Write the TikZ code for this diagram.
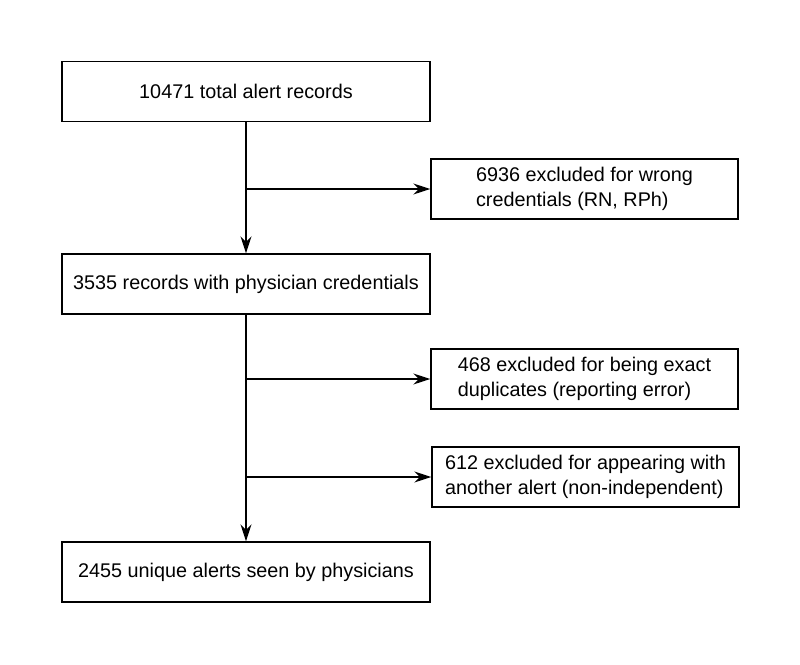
\documentclass[tikz,border=0pt]{standalone}
\usepackage{fontspec}
\setmainfont{Liberation Sans}
\usetikzlibrary{positioning,arrows.meta}
\begin{document}
\begin{tikzpicture}[
            x=0.5pt, y=-0.5pt,
            every node/.style={font=\fontsize{9.9}{12.3}\selectfont},
            mainbox/.style={rectangle, draw, line width=0.7pt, minimum width=184pt, minimum height=30pt, inner sep=0pt},
            sidebox/.style={rectangle, draw, line width=0.7pt, minimum width=153.5pt, minimum height=30pt, inner sep=0pt, align=left},
            flow/.style={-{Stealth[length=8.5pt,width=5.5pt]}, line width=0.7pt}
        ]
        \useasboundingbox (0,0) rectangle (800,665);
        % main column
        \node[mainbox] (total) at (246,91.5) {10471 total alert records};
        \node[mainbox] (phys) at (246,284) {3535 records with physician credentials};
        \node[mainbox] (unique) at (246,572) {2455 unique alerts seen by physicians};
        % exclusions
        \node[sidebox] (wrong) at (584.5,189) {6936 excluded for wrong\\credentials (RN, RPh)};
        \node[sidebox] (dupl) at (584.5,379) {468 excluded for being exact\\duplicates (reporting error)};
        \node[sidebox] (nonind) at (585.5,477) {612 excluded for appearing with\\another alert (non-independent)};
        % connectors
        \draw[flow] (total) -- (phys);
        \draw[flow] (total.south |- wrong.west) -- (wrong.west);
        \draw[flow] (phys) -- (unique);
        \draw[flow] (phys.south |- dupl.west) -- (dupl.west);
        \draw[flow] (phys.south |- nonind.west) -- (nonind.west);
    \end{tikzpicture}
\end{document}
